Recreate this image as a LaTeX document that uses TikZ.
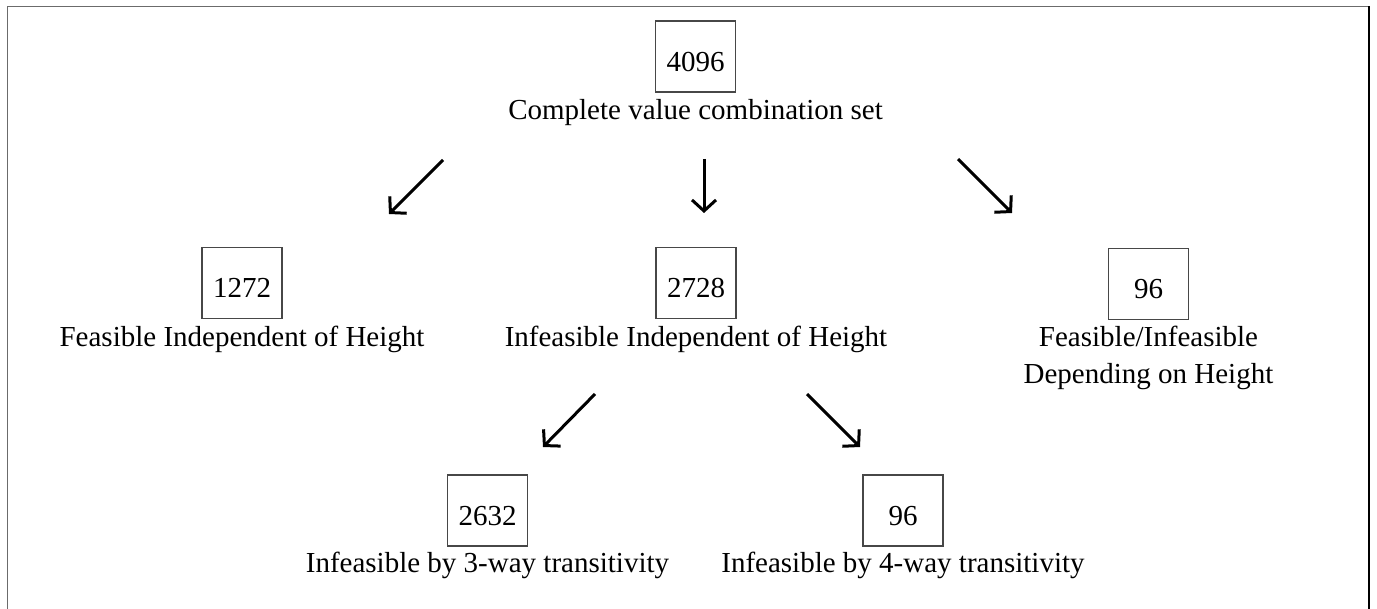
\documentclass[tikz,border=0pt]{standalone}
\usepackage{fontspec}
\setmainfont{Liberation Serif}
\usetikzlibrary{arrows.meta}
\begin{document}
\begin{tikzpicture}[x=0.5pt,y=-0.5pt,
  font=\fontsize{14.5}{18.5}\selectfont,
  countbox/.style={draw=black!72, line width=0.6pt, minimum width=40pt,
    minimum height=35.5pt, inner sep=0pt, text height=16pt, text depth=1.2pt},
  caption/.style={anchor=base, inner sep=0pt, align=center},
  flow/.style={line width=1.5pt, line cap=butt,
    -{Straight Barb[length=5.5pt,width=12pt]}}]
  \useasboundingbox (0,0) rectangle (1377,609);

  % open frame
  \draw[black!58, line width=0.6pt] (7.5,609) -- (7.5,6.5) -- (1369,6.5);
  \draw[line width=0.6pt] (1369,6.5) -- (1369,609);

  % counts
  \node[countbox] (all)  at (695.5,56.5) {4096};
  \node[countbox] (feas) at (242,283)    {1272};
  \node[countbox] (inf)  at (696,283)    {2728};
  \node[countbox] (dep)  at (1148.5,284) {96};
  \node[countbox] (tri)  at (487.5,510.5){2632};
  \node[countbox] (quad) at (903,510.5)  {96};

  % captions (base anchor sits on the last line)
  \node[caption] (allC)  at ([yshift=-13.5pt]all.south)  {Complete value combination set};
  \node[caption] (feasC) at ([yshift=-13.5pt]feas.south) {Feasible Independent of Height};
  \node[caption] (infC)  at ([yshift=-13.5pt]inf.south)  {Infeasible Independent of Height};
  \node[caption] (depC)  at ([yshift=-31.5pt]dep.south)  {Feasible/Infeasible\\Depending on Height};
  \node[caption] (triC)  at ([yshift=-13pt]tri.south)    {Infeasible by 3-way transitivity};
  \node[caption] (quadC) at ([yshift=-13pt]quad.south)   {Infeasible by 4-way transitivity};

  % arrow ends
  \coordinate (s1) at (443,160);  \coordinate (e1) at (389,214);
  \coordinate (s2) at (704,159);  \coordinate (e2) at (704,213);
  \coordinate (s3) at (958,159);  \coordinate (e3) at (1012,213);
  \coordinate (s4) at (595,394);  \coordinate (e4) at (543,447);
  \coordinate (s5) at (807,394);  \coordinate (e5) at (860,447);

  \draw[flow] (s1) -- (e1);
  \draw[flow] (s2) -- (e2);
  \draw[flow] (s3) -- (e3);
  \draw[flow] (s4) -- (e4);
  \draw[flow] (s5) -- (e5);
\end{tikzpicture}
\end{document}
